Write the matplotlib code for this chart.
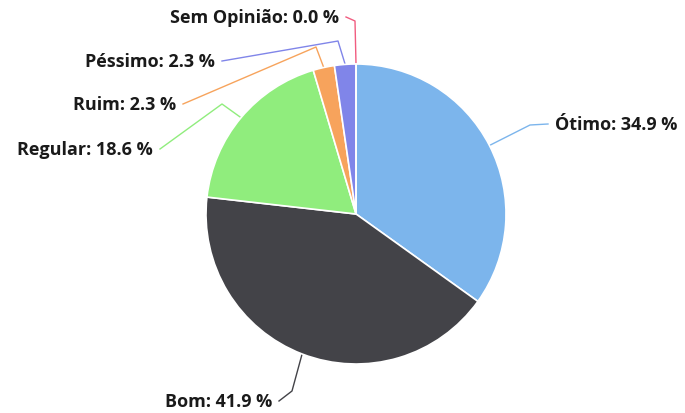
import numpy as np
import matplotlib as mpl; mpl.use("Agg")
import matplotlib.pyplot as plt

# data
labels = ["Ótimo", "Bom", "Regular", "Ruim", "Péssimo", "Sem Opinião"]
values = [34.9, 41.9, 18.6, 2.3, 2.3, 0.0]
colors = ["#7cb5ec", "#434348", "#90ed7d", "#f7a35c", "#8085e9", "#f15c80"]

# layout (pixel coords, y from top): label anchor, connector elbow, text side
W, H = 685, 414
CENTER = (356, 215); RADIUS = 150
label_pt = [(548, 125), (279, 402), (160, 150), (183, 105), (222, 62), (346, 18)]
elbow_pt = [(530, 126), (292, 392), (222, 105), (316, 48), (338, 42), (355, 22)]
side = ["left", "right", "right", "right", "right", "right"]

plt.rcParams["font.family"] = ["Open Sans", "DejaVu Sans"]
fig = plt.figure(figsize=(W/100, H/100), dpi=100)
ax = fig.add_axes([0, 0, 1, 1])

cx, cy = CENTER[0], H - CENTER[1]
wedges, _ = ax.pie(values, colors=colors, startangle=90, counterclock=False,
                   center=(cx, cy), radius=RADIUS, frame=True,
                   wedgeprops=dict(edgecolor="white", linewidth=1.2))
ax.set_xlim(0, W); ax.set_ylim(0, H); ax.axis("off")

for w, lab, v, c, lp, ep, sd in zip(wedges, labels, values, colors, label_pt, elbow_pt, side):
    mid = np.deg2rad((w.theta1 + w.theta2) / 2)
    ex, ey = cx + RADIUS*np.cos(mid), cy + RADIUS*np.sin(mid)
    xs = [lp[0], ep[0], ex]; ys = [H - lp[1], H - ep[1], ey]
    ax.plot(xs, ys, color=c, lw=1, solid_joinstyle="round", zorder=0)
    tx = lp[0] + (7 if sd == "left" else -7)
    ax.text(tx, H - lp[1], f"{lab}: {v:.1f} %", ha=sd, va="center",
            fontsize=13, fontweight="bold", color="#1a1a1a")

fig.savefig("out.png", dpi=100)
